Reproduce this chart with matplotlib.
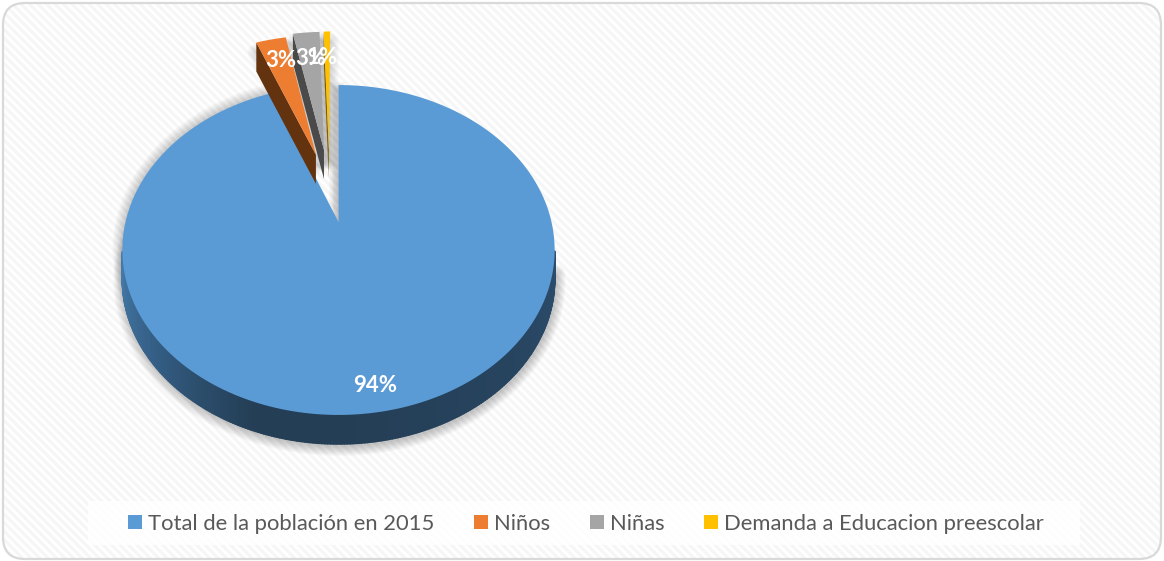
import numpy as np
import matplotlib
matplotlib.use("Agg")
import matplotlib.pyplot as plt
from matplotlib.patches import Polygon, FancyBboxPatch, Patch, Rectangle
from matplotlib.collections import LineCollection, PolyCollection
from matplotlib.colors import LinearSegmentedColormap

# ---- data ----
categories = ["Total de la población en 2015", "Niños", "Niñas", "Demanda a Educacion preescolar"]
values = [94.1, 2.8, 2.5, 0.6]
explode = [0.0, 0.47, 0.49, 0.49]
nudge = [0.0, 0.017, -0.017, -0.04]
colors = ["#5b9bd5", "#ed7d31", "#a5a5a5", "#ffc000"]
wall_colors = ["#2f5577", "#63330f", "#4a4a4a", "#7f6000"]
pct_labels = ["94%", "3%", "3%", "1%"]
label_xy = [(375, 385), (281, 60), (311, 58), (322, 57)]

W, H = 1164, 561
fig = plt.figure(figsize=(W / 100, H / 100), dpi=100, facecolor="white")
ax = fig.add_axes([0, 0, 1, 1])
ax.set_xlim(0, W)
ax.set_ylim(H, 0)
ax.axis("off")

# perspective projection of the tilted pie
XC, YC, A, B, C, DEPTH = 338.5, 222.0, 0.1697, 160.2, 213.0, 29.0


def proj(x, y):
    w = 1 + A * y
    return XC + C * x / w, YC - B * y / w


def outer(t, r=1.0, cx=0.0, cy=0.0):
    return proj(cx + r * np.sin(t), cy + r * np.cos(t))


# card background
card = FancyBboxPatch((3, 3), W - 6, H - 5, boxstyle="round,pad=0,rounding_size=22",
                      fc="white", ec="none", zorder=0)
ax.add_patch(card)
segs = [[(s, 0), (s + H, H)] for s in np.arange(-H, W, 8.5)]
stripes = LineCollection(segs, colors="#f6f6f6", linewidths=2.2, zorder=0.5)
ax.add_collection(stripes)
stripes.set_clip_path(card)
ax.add_patch(FancyBboxPatch((3, 3), W - 6, H - 5, boxstyle="round,pad=0,rounding_size=22",
                            fc="none", ec="#d9d9d9", lw=1.6, zorder=0.7))

# angles from values
total = sum(values)
edges = np.cumsum([0] + values) / total * 2 * np.pi
pieces = []
for i in range(len(values)):
    t = np.linspace(edges[i], edges[i + 1], max(int((edges[i + 1] - edges[i]) * 90), 6))
    m = 0.5 * (edges[i] + edges[i + 1])
    cx, cy = explode[i] * np.sin(m) + nudge[i], explode[i] * np.cos(m)
    ox, oy = outer(t, 1.0, cx, cy)
    ax0, ay0 = proj(cx, cy)
    pieces.append((t, ox, oy, ax0, ay0))

# soft shadows
t, ox, oy, ax0, ay0 = pieces[0]
low = oy + DEPTH
for lw in np.arange(1, 15, 1.5):
    ax.plot(ox[t > 1.7] + 1, low[t > 1.7] + 2, color="black", alpha=0.022, lw=lw, zorder=1,
            solid_capstyle="round")
    ax.plot(ox[t > 3.6], oy[t > 3.6], color="black", alpha=0.018, lw=lw, zorder=1)
    for i in (1, 2, 3):
        _, px, py, a0, b0 = pieces[i]
        ax.plot(np.r_[a0, px, a0], np.r_[b0, py, b0] + 10, color="black",
                alpha=0.016, lw=lw * 0.9, zorder=1)
    ax.plot([XC - 2, XC - 2], [YC, 90], color="black", alpha=0.022, lw=lw * 0.8, zorder=1)

# side wall of the big slice, shaded along its rim
cmap = LinearSegmentedColormap.from_list("wall", [
    (0.0, "#2c4d6c"), (0.22, "#27445f"), (0.5, "#243e55"), (0.62, "#243e55"),
    (0.8, "#335c82"), (1.0, "#4579a8")])
mask = (t > np.pi * 0.555) & (t < np.pi * 1.445)
tw, xw, yw = t[mask], ox[mask], oy[mask]
quads, cols = [], []
for j in range(len(tw) - 1):
    quads.append([(xw[j], yw[j]), (xw[j + 1], yw[j + 1]),
                  (xw[j + 1], yw[j + 1] + DEPTH), (xw[j], yw[j] + DEPTH)])
    cols.append(cmap((tw[j] - tw[0]) / (tw[-1] - tw[0])))
ax.add_collection(PolyCollection(quads, facecolors=cols, edgecolors=cols, linewidths=1.2, zorder=2))

# top face of the big slice
ax.add_patch(Polygon(np.c_[np.r_[ax0, ox], np.r_[ay0, oy]], closed=True, fc=colors[0], ec="none", zorder=3))

# exploded slices: left wall + top face
for i in (1, 2, 3):
    _, px, py, a0, b0 = pieces[i]
    z = 4 + i
    ax.add_patch(Polygon([(a0, b0), (px[0], py[0]), (px[0], py[0] + DEPTH), (a0, b0 + DEPTH)],
                         closed=True, fc=wall_colors[i], ec="none", zorder=z))
    ax.add_patch(Polygon(np.c_[np.r_[a0, px], np.r_[b0, py]], closed=True,
                         fc=colors[i], ec="none", zorder=z + 0.5))

# data labels
for lab, (lx, ly) in zip(pct_labels, label_xy):
    ax.text(lx, ly, lab, color="white", fontsize=16, fontweight="bold", family="Lato",
            ha="center", va="center", zorder=10)

# legend
ax.add_patch(Rectangle((88, 501), 992, 44, fc="white", ec="none", alpha=0.85, zorder=8))
handles = [Patch(fc=c, ec="none") for c in colors]
leg = ax.legend(handles, categories, ncol=4, loc="center", bbox_to_anchor=(586 / W, 1 - 523.5 / H),
                bbox_transform=fig.transFigure, frameon=False, prop={"family": "Lato", "size": 15.8},
                labelcolor="#595959", handlelength=0.63, handleheight=0.63, handletextpad=0.27,
                columnspacing=1.82, borderpad=0, borderaxespad=0)
leg.set_zorder(9)

fig.savefig("out.png", dpi=100, facecolor="white")
